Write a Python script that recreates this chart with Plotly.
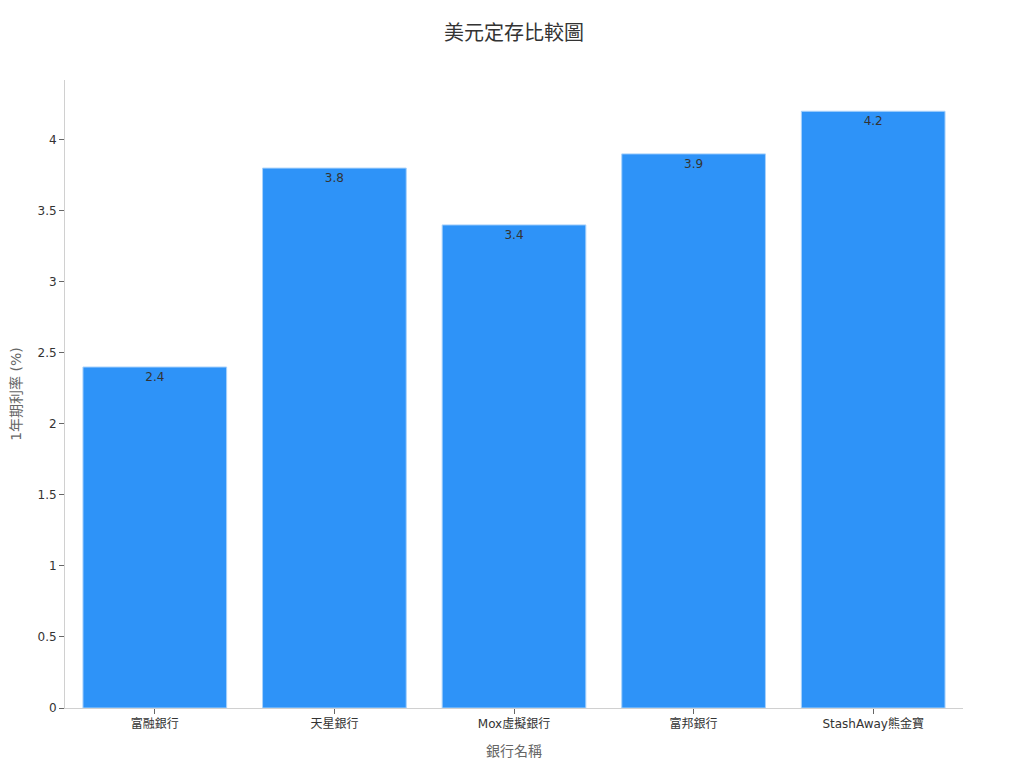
import plotly.graph_objects as go

# 銀行名稱與 1 年期美元定存利率 (%)
banks = ["富融銀行", "天星銀行", "Mox虛擬銀行", "富邦銀行", "StashAway熊金寶"]
rates = [2.4, 3.8, 3.4, 3.9, 4.2]
y_ticks = [0, 0.5, 1, 1.5, 2, 2.5, 3, 3.5, 4]

FONT = "DejaVu Sans, Noto Sans CJK TC, sans-serif"

fig = go.Figure(
    go.Bar(
        x=banks,
        y=rates,
        text=[str(r) for r in rates],
        textposition="inside",
        insidetextanchor="end",
        textfont=dict(size=12, color="#333333"),
        marker=dict(color="#2E93F8", line=dict(color="#A9D2FB", width=1)),
        showlegend=False,
    )
)

# 頁面本身有 8px 邊距，所以邊界往左上補回
fig.update_layout(
    width=1024, height=768,
    paper_bgcolor="white", plot_bgcolor="white",
    font=dict(family=FONT, size=12, color="#333333"),
    title=dict(text="美元定存比較圖", x=0.5, xref="paper", y=0.968, xanchor="center", yanchor="middle",
               font=dict(size=20, color="#333333")),
    margin=dict(l=57, r=69, t=72, b=68),
    bargap=0.2,
    xaxis=dict(
        title=dict(text="銀行名稱", font=dict(size=14, color="#666666"), standoff=15),
        showline=True, linecolor="#D0D0D0", linewidth=1,
        ticks="outside", ticklen=5, tickcolor="#666666",
        showgrid=False, automargin=False,
    ),
    yaxis=dict(
        title=dict(text="1年期利率 (%)", font=dict(size=14, color="#666666"), standoff=20),
        range=[0, 4.42],
        tickvals=y_ticks,
        showline=True, linecolor="#D0D0D0", linewidth=1,
        ticks="outside", ticklen=5, tickcolor="#666666",
        showgrid=False, zeroline=False, automargin=False,
    ),
)

fig.write_html("out.html")
